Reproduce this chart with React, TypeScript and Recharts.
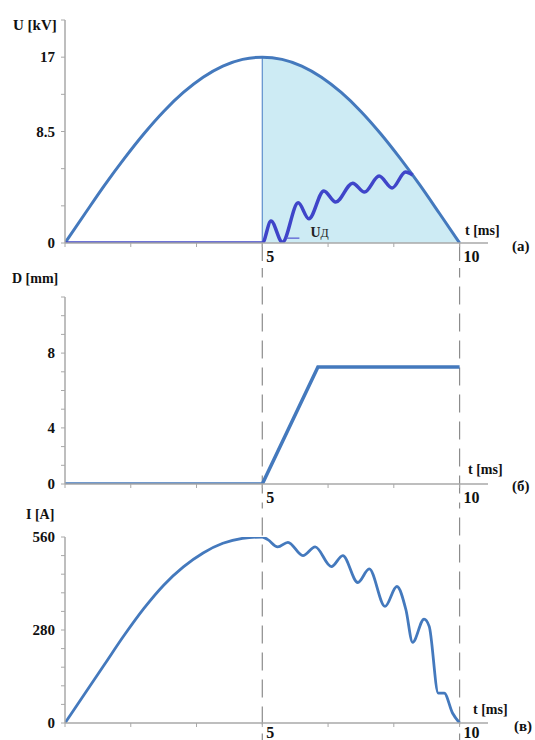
import React from 'react';
import {
  ComposedChart,
  LineChart,
  Line,
  Area,
  XAxis,
  YAxis,
  ReferenceLine,
} from 'recharts';

// time axis, ms
const X_TICKS = [0, 1.667, 3.333, 5, 6.667, 8.333, 10];
const X_LABELS: Record<number, string> = { 5: '5', 10: '10' };

// panel (a): voltage, in axis tick units (tick 3 = 8.5 kV, tick 5 = 17 kV)
const U_TICKS = [0, 1, 2, 3, 4, 5, 6];
const U_LABELS: Record<number, string> = { 0: '0', 3: '8.5', 5: '17' };
const U_T = [0, 0.5, 1, 1.5, 2, 2.5, 3, 3.5, 4, 4.5, 5, 5.5, 6, 6.5, 7, 7.5, 8, 8.5, 9, 9.5, 10];
const U_VALS = [0, 0.78, 1.55, 2.27, 2.94, 3.54, 4.05, 4.46, 4.76, 4.94, 5.0, 4.94, 4.76, 4.46, 4.05, 3.54, 2.94, 2.27, 1.55, 0.78, 0];
const UD_T = [0, 5, 5.22, 5.51, 5.91, 6.18, 6.56, 6.86, 7.29, 7.59, 7.96, 8.29, 8.63, 8.81];
const UD_VALS = [0, 0, 0.59, 0.02, 1.08, 0.65, 1.4, 1.1, 1.61, 1.37, 1.8, 1.48, 1.91, 1.83];

// panel (б): gap, in axis tick units (tick 3 = 4 mm, tick 7 = 8 mm)
const D_TICKS = [0, 1, 2, 3, 4, 5, 6, 7, 8, 9, 10];
const D_LABELS: Record<number, string> = { 0: '0', 3: '4', 7: '8' };
const D_T = [0, 5, 6.41, 10];
const D_VALS = [0, 0, 6.26, 6.26];

// panel (в): current, A
const I_TICKS = [0, 56, 112, 168, 224, 280, 336, 392, 448, 504, 560];
const I_LABELS: Record<number, string> = { 0: '0', 280: '280', 560: '560' };
const I_T = [0, 0.5, 1, 1.5, 2, 2.5, 3, 3.5, 4, 4.5, 5, 5.14, 5.39, 5.65, 6.03, 6.34, 6.75, 7.04, 7.42, 7.71, 8.11, 8.41, 8.64, 8.81, 9.1, 9.23, 9.46, 9.61, 9.82, 10];
const I_VALS = [0, 88, 176, 264, 345, 415, 470, 512, 541, 556, 560, 552, 530, 544, 504, 530, 471, 504, 423, 464, 351, 411, 341, 243, 313, 291, 90, 90, 30, 0];

const uRows = U_T.map((t, i) => ({ t, u: U_VALS[i] }));
const uFillRows = uRows.filter((r) => r.t >= 5);
const udRows = UD_T.map((t, i) => ({ t, ud: UD_VALS[i] }));
const dRows = D_T.map((t, i) => ({ t, d: D_VALS[i] }));
const iRows = I_T.map((t, i) => ({ t, i: I_VALS[i] }));

const SERIF = '"Liberation Serif", "Times New Roman", serif';
const AXIS = '#a8a8a8';
const BLUE = '#4479bd';
const DASH = '#8c8c8c';

const makeXTick = (dy: number) => ({ x, y, payload }: any) => {
  const label = X_LABELS[payload.value];
  if (!label) return <g />;
  return (
    <text x={x + 4} y={y + dy} fontFamily={SERIF} fontWeight="bold" fontSize={16} fill="#111" textAnchor="start">
      {label}
    </text>
  );
};

const makeYTick = (labels: Record<number, string>) => ({ x, y, payload }: any) => {
  const label = labels[payload.value];
  if (!label) return <g />;
  return (
    <text x={x} y={y} dy="0.35em" fontFamily={SERIF} fontWeight="bold" fontSize={15} fill="#111" textAnchor="end">
      {label}
    </text>
  );
};

const Txt = ({ left, cy, size, children }: any) => (
  <div
    style={{
      position: 'absolute',
      left,
      top: cy,
      transform: 'translateY(-50%)',
      fontFamily: SERIF,
      fontWeight: 'bold',
      fontSize: size,
      lineHeight: 1,
      color: '#111',
      whiteSpace: 'nowrap',
    }}
  >
    {children}
  </div>
);

const xAxisProps = {
  type: 'number' as const,
  dataKey: 't',
  domain: [0, 10.72],
  ticks: X_TICKS,
  allowDataOverflow: true,
  axisLine: { stroke: AXIS, strokeWidth: 1.5 },
  tickLine: { stroke: AXIS },
  tickSize: 4,
  tickMargin: 0,
  interval: 0 as const,
};

const yAxisBase = {
  type: 'number' as const,
  width: 65,
  axisLine: { stroke: AXIS, strokeWidth: 1.5 },
  tickLine: { stroke: AXIS },
  tickSize: 4,
  tickMargin: 6,
  interval: 0 as const,
  allowDataOverflow: true,
};

const UdLabel = ({ viewBox }: any) => {
  if (!viewBox) return null;
  return (
    <text x={viewBox.x + viewBox.width + 11} y={viewBox.y - 1} fontFamily={SERIF} fill="#222">
      <tspan fontSize={14} fontWeight="bold">U</tspan>
      <tspan fontSize={12}>Д</tspan>
    </text>
  );
};

const App: React.FC = () => {
  return (
    <div style={{ position: 'absolute', left: 0, top: 0, width: 535, height: 740, background: '#fff', overflow: 'hidden' }}>
      {/* (a) voltage */}
      <div style={{ position: 'absolute', left: 0, top: 0 }}>
        <ComposedChart width={535} height={268} data={uRows} margin={{ top: 20, right: 47, left: 0, bottom: 0 }}>
          <XAxis {...xAxisProps} height={25} tick={makeXTick(15)} />
          <YAxis {...yAxisBase} domain={[0, 6]} ticks={U_TICKS} tick={makeYTick(U_LABELS)} />
          <Area
            data={uFillRows}
            dataKey="u"
            type="monotone"
            fill="#cdebf4"
            fillOpacity={1}
            stroke="none"
            isAnimationActive={false}
          />
          <ReferenceLine segment={[{ x: 5, y: 0 }, { x: 5, y: 5 }]} stroke="#5f8fcc" strokeWidth={1.2} ifOverflow="visible" />
          <ReferenceLine segment={[{ x: 5, y: 0 }, { x: 5, y: -1 }]} stroke={DASH} strokeWidth={1.2} strokeDasharray="18 9" ifOverflow="visible" />
          <ReferenceLine segment={[{ x: 10, y: 0 }, { x: 10, y: -1 }]} stroke={DASH} strokeWidth={1.2} strokeDasharray="18 9" ifOverflow="visible" />
          <Line dataKey="u" type="monotone" stroke={BLUE} strokeWidth={3} dot={false} isAnimationActive={false} />
          <Line data={udRows} dataKey="ud" type="monotone" stroke="#3f45c9" strokeWidth={3.5} strokeLinejoin="round" dot={false} isAnimationActive={false} />
          <ReferenceLine
            segment={[{ x: 5.62, y: 0.13 }, { x: 5.94, y: 0.13 }]}
            stroke="#6b72d8"
            strokeWidth={1.5}
            ifOverflow="visible"
            label={<UdLabel />}
          />
        </ComposedChart>
      </div>

      {/* (б) gap */}
      <div style={{ position: 'absolute', left: 0, top: 268 }}>
        <LineChart width={535} height={238} data={dRows} margin={{ top: 29, right: 47, left: 0, bottom: 0 }}>
          <XAxis {...xAxisProps} height={22} tick={makeXTick(15)} />
          <YAxis {...yAxisBase} domain={[0, 10]} ticks={D_TICKS} tick={makeYTick(D_LABELS)} />
          <ReferenceLine segment={[{ x: 5, y: 12 }, { x: 5, y: -1.5 }]} stroke={DASH} strokeWidth={1.2} strokeDasharray="18 9" ifOverflow="visible" />
          <ReferenceLine segment={[{ x: 10, y: 12 }, { x: 10, y: -1.5 }]} stroke={DASH} strokeWidth={1.2} strokeDasharray="18 9" ifOverflow="visible" />
          <Line dataKey="d" type="linear" stroke={BLUE} strokeWidth={3.5} dot={false} isAnimationActive={false} />
        </LineChart>
      </div>

      {/* (в) current */}
      <div style={{ position: 'absolute', left: 0, top: 506 }}>
        <LineChart width={535} height={234} data={iRows} margin={{ top: 31, right: 47, left: 0, bottom: 0 }}>
          <XAxis {...xAxisProps} height={17} tick={makeXTick(11)} />
          <YAxis {...yAxisBase} domain={[0, 560]} ticks={I_TICKS} tick={makeYTick(I_LABELS)} />
          <ReferenceLine segment={[{ x: 5, y: 700 }, { x: 5, y: -60 }]} stroke={DASH} strokeWidth={1.2} strokeDasharray="18 9" ifOverflow="visible" />
          <ReferenceLine segment={[{ x: 10, y: 700 }, { x: 10, y: -60 }]} stroke={DASH} strokeWidth={1.2} strokeDasharray="18 9" ifOverflow="visible" />
          <Line dataKey="i" type="monotone" stroke={BLUE} strokeWidth={2.8} dot={false} isAnimationActive={false} />
        </LineChart>
      </div>

      <Txt left={13} cy={25} size={15}>U [kV]</Txt>
      <Txt left={465} cy={231} size={14}>t [ms]</Txt>
      <Txt left={512} cy={246} size={15}>(а)</Txt>

      <Txt left={12} cy={279} size={14}>D [mm]</Txt>
      <Txt left={468} cy={470} size={14}>t [ms]</Txt>
      <Txt left={512} cy={486} size={15}>(б)</Txt>

      <Txt left={26} cy={515} size={14}>I [A]</Txt>
      <Txt left={473} cy={710} size={14}>t [ms]</Txt>
      <Txt left={514} cy={726} size={15}>(в)</Txt>
    </div>
  );
};

export default App;
